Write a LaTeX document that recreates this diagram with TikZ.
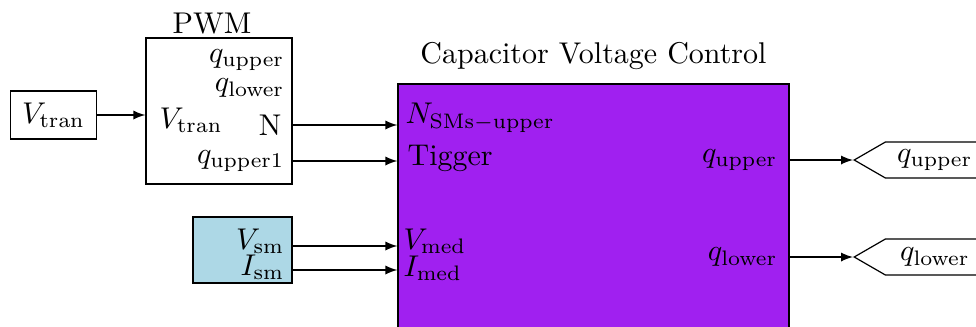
\documentclass[tikz,border=0pt]{standalone}
\usepackage{amsmath}
\usepackage{tikz}
\usetikzlibrary{shapes.symbols,arrows}
\definecolor{cvcpurple}{RGB}{160,32,240}
\definecolor{smblue}{RGB}{173,216,230}

\begin{document}
\begin{tikzpicture}[
  x=0.3333pt, y=-0.3333pt,
  block/.style={draw, rectangle, inner sep=0pt},
  port/.style={inner sep=1pt},
  sig/.style={draw,-latex},
  gototag/.style={draw, signal, signal to=west, signal pointer angle=60,
  text width=27pt, align=center, minimum height=12pt, inner xsep=3pt, inner ysep=1pt}
]
\clip (0,0) rectangle (976,326);

% blocks
\node[block, minimum width=28.7pt, minimum height=16pt] (tran) at (53.5,115) {$V_{\mathrm{tran}}$};
\node[block, minimum width=48.7pt, minimum height=48.7pt,
  label={[inner sep=1pt, xshift=-2.3pt]above:PWM}] (pwm) at (219,111) {};
\node[block, fill=smblue, minimum width=33pt, minimum height=22pt] (sm) at (242.5,250) {};
\node[block, fill=cvcpurple, minimum width=130.3pt, minimum height=92pt,
  label={[inner sep=1pt, label distance=3.3pt]above:Capacitor Voltage Control}] (cvc) at (593.5,222) {};

% ports
\node[port, anchor=east] (pwmQU) at (288,60) {$q_{\mathrm{upper}}$};
\node[port, anchor=east] (pwmQL) at (288,88) {$q_{\mathrm{lower}}$};
\node[port, anchor=west] (pwmV) at (156,120) {$V_{\mathrm{tran}}$};
\node[port, anchor=east] (pwmN) at (285,125) {N};
\node[port, anchor=east] (pwmQ1) at (288,161) {$q_{\mathrm{upper1}}$};
\node[port, anchor=east] (smV) at (288,241) {$V_{\mathrm{sm}}$};
\node[port, anchor=east] (smI) at (288,267) {$I_{\mathrm{sm}}$};

\node[port, anchor=west] (cvcN) at (402,118) {$N_{\mathrm{SMs-upper}}$};
\node[port, anchor=west] (cvcT) at (404,158) {Tigger};
\node[port, anchor=west] (cvcV) at (400,241) {$V_{\mathrm{med}}$};
\node[port, anchor=west] (cvcI) at (400,268) {$I_{\mathrm{med}}$};
\node[port, anchor=east] (cvcQU) at (781,160) {$q_{\mathrm{upper}}$};
\node[port, anchor=east] (cvcQL) at (781,257) {$q_{\mathrm{lower}}$};

% goto tags
\node[gototag, anchor=west] (tagU) at (853,160) {$q_{\mathrm{upper}}$};
\node[gototag, anchor=west] (tagL) at (853,257) {$q_{\mathrm{lower}}$};

% signals
\draw[sig] (tran.east) -- (pwm.west |- tran.east);
\draw[sig] (pwm.east |- pwmN.east) -- (cvc.west |- pwmN.east);
\draw[sig] (pwm.east |- pwmQ1.east) -- (cvc.west |- pwmQ1.east);
\draw[sig] (sm.east |- 0,246) -- (cvc.west |- 0,246);
\draw[sig] (sm.east |- 0,270) -- (cvc.west |- 0,270);
\draw[sig] (cvc.east |- tagU.west) -- (tagU.west);
\draw[sig] (cvc.east |- tagL.west) -- (tagL.west);

\end{tikzpicture}
\end{document}
